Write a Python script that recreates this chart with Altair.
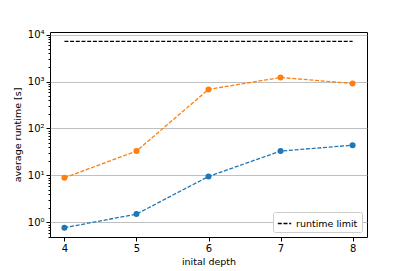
import altair as alt
import pandas as pd
import numpy as np

depth = [4, 5, 6, 7, 8]
runtime_orange = [8.9, 33, 680, 1220, 910]
runtime_blue = [0.77, 1.5, 9.5, 33, 44]
limit_x = [4, 8]
limit_y = [7200, 7200]
limit_label = "runtime limit"

major = [1, 10, 100, 1000, 10000]
minor = [m * 10.0**k for k in range(-1, 4) for m in range(2, 10)]
ticks = [v for v in minor if 0.49 <= v <= 11000] + major

df_o = pd.DataFrame({"depth": depth, "rt": runtime_orange})
df_b = pd.DataFrame({"depth": depth, "rt": runtime_blue})
df_l = pd.DataFrame({"depth": limit_x, "rt": limit_y, "label": [limit_label] * 2})

font = "DejaVu Sans"
is_major = "abs(log(datum.value)/LN10 - round(log(datum.value)/LN10)) < 1e-6"

x = alt.X("depth:Q", scale=alt.Scale(domain=[3.8, 8.2], nice=False, zero=False),
          axis=alt.Axis(values=depth, format="d", title="inital depth", grid=False,
                        tickSize=4, labelPadding=2, titlePadding=3))
y = alt.Y("rt:Q",
          scale=alt.Scale(type="log", domain=[0.488, 11350], nice=False),
          axis=alt.Axis(values=ticks, title="average runtime [s]",
                        labelExpr="(abs(log(datum.value)/LN10 - round(log(datum.value)/LN10)) < 1e-6) ? '10' + ['⁰','¹','²','³','⁴'][round(log(datum.value)/LN10)] : ''",
                        tickSize={"condition": {"test": is_major, "value": 4}, "value": 2},
                        gridOpacity={"condition": {"test": is_major, "value": 1}, "value": 0},
                        gridColor="#b0b0b0", gridWidth=0.8,
                        labelPadding=2, titlePadding=5))

dash = [4, 1.7]

def series(df, color):
    line = alt.Chart(df).mark_line(color=color, strokeDash=dash, strokeWidth=1.3).encode(x=x, y=y)
    pts = alt.Chart(df).mark_point(color=color, filled=True, opacity=1, size=36, shape="circle").encode(x=x, y=y)
    return line + pts

limit = alt.Chart(df_l).mark_line(strokeDash=dash, strokeWidth=1.3).encode(
    x=x, y=y,
    color=alt.Color("label:N", scale=alt.Scale(domain=[limit_label], range=["black"]),
                    legend=alt.Legend(title=None, orient="bottom-right", symbolType="stroke",
                                      symbolDash=[4, 1.7], symbolStrokeWidth=1.3, symbolSize=180,
                                      strokeColor="#cccccc", fillColor="white", padding=4,
                                      cornerRadius=2, labelFontSize=9.5, labelFont=font,
                                      offset=5, labelColor="black")),
)

chart = (series(df_b, "#1f77b4") + series(df_o, "#ff7f0e") + limit).properties(
    width=317, height=205,
    autosize=alt.AutoSizeParams(type="none"),
    padding={"left": 42, "top": 24, "right": 24, "bottom": 34},
).configure_view(stroke="black", strokeWidth=1).configure_axis(
    labelFont=font, titleFont=font, labelFontSize=10, titleFontSize=9.5,
    labelColor="black", titleColor="black", titleFontWeight="normal",
    domain=False, tickColor="black",
)

chart.save("out.html", embed_options={"renderer": "svg", "actions": False})
